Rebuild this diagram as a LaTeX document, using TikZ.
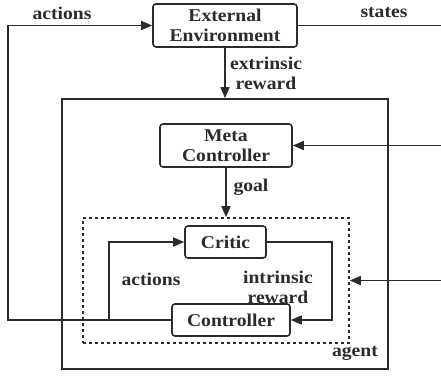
\documentclass[tikz,border=0pt]{standalone}
\usepackage{fontspec}
\setmainfont{Liberation Serif}[FakeStretch=1.09]
\usetikzlibrary{arrows.meta}

\definecolor{ink}{HTML}{2B2B2B}
\tikzstyle{block}=[draw=ink, line width=1.6pt, rounded corners=3pt, align=center, inner sep=0pt, text=ink]
\tikzstyle{frame}=[draw=ink, line width=1.6pt, inner sep=0pt]
\tikzstyle{link}=[draw=ink, line width=1.6pt, -{Triangle[length=11pt,width=9pt]}]
\tikzstyle{lbl}=[text=ink, align=center, inner sep=0pt]

\begin{document}
\begin{tikzpicture}[x=1pt, y=-1pt, font=\fontsize{18}{20}\selectfont\bfseries]
\useasboundingbox (0,0) rectangle (441,375);

\node[block, minimum width=144pt, minimum height=43pt] (env) at (225,25.5) {External\\Environment};
\node[frame, minimum width=326pt, minimum height=270pt] (agentbox) at (225,234) {};
\node[block, minimum width=132pt, minimum height=43pt] (meta) at (226,145.5) {Meta\\Controller};
\node[frame, dash pattern=on 3pt off 3pt, minimum width=266pt, minimum height=125pt] (inner) at (216,280.5) {};
\node[block, minimum width=81pt, minimum height=32pt] (critic) at (225.5,242) {Critic};
\node[block, minimum width=118pt, minimum height=32pt] (ctrl) at (231,320) {Controller};

\coordinate (outl) at (8,0);
\coordinate (outr) at (441,0);
\coordinate (branch) at (109,0);
\coordinate (back) at (332,0);

\draw[link] (env.south) -- (agentbox.north);
\draw[link] (meta.south) -- (meta.south |- inner.north);
\draw[draw=ink, line width=1.6pt] (env.east) -- (outr |- env.east);
\draw[link] (outr |- meta.east) -- (meta.east);
\draw[link] (outr |- inner.east) -- (inner.east);
\draw[link] (ctrl.west) -- (outl |- ctrl.west) -- (outl |- env.west) -- (env.west);
\draw[link] (branch |- ctrl.west) -- (branch |- critic.west) -- (critic.west);
\draw[link] (critic.east) -- (back |- critic.east) -- (back |- ctrl.east) -- (ctrl.east);

\node[lbl] (lact) at (62,13) {actions};
\node[lbl] (lstates) at (384,13) {states};
\node[lbl] (lext) at (266,73.5) {extrinsic\\reward};
\node[lbl] (lgoal) at (251,187) {goal};
\node[lbl] (lact2) at (151,279) {actions};
\node[lbl] (lint) at (278,287.5) {intrinsic\\reward};
\node[lbl] (lagent) at (355,353) {agent};

\end{tikzpicture}
\end{document}
